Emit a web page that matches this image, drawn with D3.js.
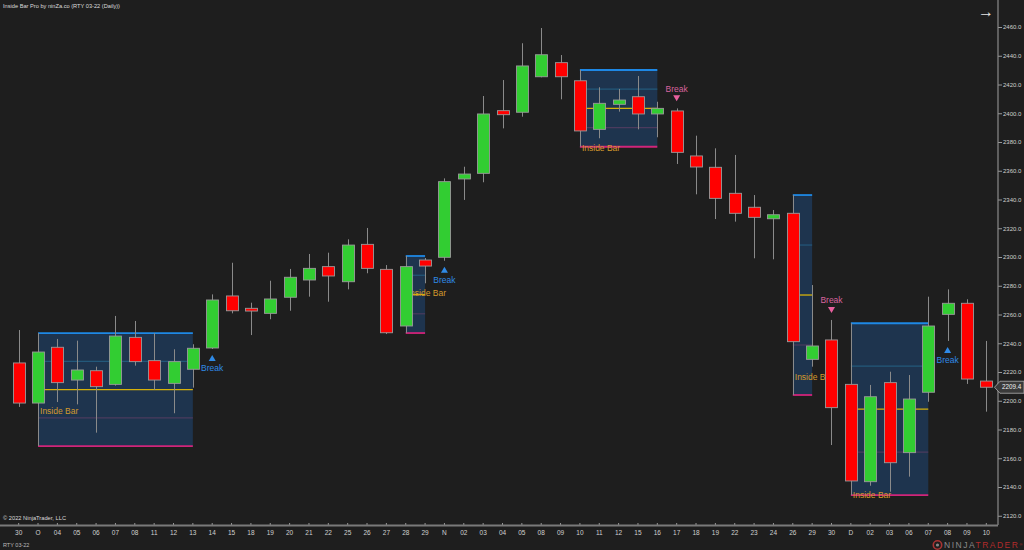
<!DOCTYPE html>
<html><head><meta charset="utf-8">
<script src="https://cdn.jsdelivr.net/npm/d3@7"></script>
<style>
html,body{margin:0;padding:0;background:#1e1e1e;}
svg{display:block;font-family:"Liberation Sans",Arial,sans-serif;}
</style></head>
<body><svg id="c" width="1024" height="550"></svg>
<script>
const dayLabels = ["30","O","04","05","06","07","08","11","12","13","14","15","18","19","20","21","22","25","26","27","28","29","N","02","03","04","05","08","09","10","11","12","15","16","17","18","19","22","23","24","26","29","30","D","02","03","06","07","08","09","10"];
const opens  = [2226.3,2198.4,2237.2,2214.4,2220.9,2211.4,2244.1,2227.9,2212.1,2221.9,2236.7,2272.9,2264.3,2260.8,2272.0,2284.0,2293.3,2282.8,2308.8,2291.4,2252.0,2297.9,2299.8,2354.3,2358.2,2401.8,2400.7,2425.4,2435.2,2422.6,2388.8,2406.2,2411.5,2399.5,2401.6,2370.3,2362.4,2344.3,2334.6,2326.6,2330.4,2228.8,2242.3,2211.4,2143.7,2212.6,2163.9,2205.9,2260.1,2267.8,2213.7];
const highs  = [2249.2,2247.1,2243.0,2241.8,2223.7,2259.0,2255.5,2247.0,2235.8,2239.3,2274.0,2296.0,2268.2,2283.5,2291.7,2302.1,2303.0,2312.3,2320.2,2294.4,2300.7,2299.3,2354.7,2362.8,2412.0,2423.1,2448.7,2459.3,2440.5,2430.1,2418.1,2416.9,2425.9,2408.0,2403.4,2384.4,2375.6,2371.0,2343.1,2332.7,2343.1,2280.5,2256.2,2253.9,2211.0,2220.2,2217.9,2272.4,2277.5,2270.6,2241.6];
const lows   = [2195.7,2168.5,2199.1,2197.5,2177.8,2210.5,2224.4,2207.5,2191.3,2209.1,2236.0,2260.8,2245.7,2256.7,2262.6,2272.4,2268.9,2277.5,2288.7,2246.4,2247.1,2281.7,2297.4,2339.7,2352.0,2389.5,2397.6,2425.0,2409.7,2376.7,2382.6,2401.1,2388.8,2383.3,2364.7,2343.6,2326.4,2324.6,2299.1,2298.4,2204.0,2223.7,2169.2,2134.4,2140.9,2136.7,2147.2,2199.3,2241.6,2211.7,2192.4];
const closes = [2198.4,2233.9,2212.6,2221.4,2209.8,2245.0,2227.2,2214.4,2227.2,2236.5,2270.1,2262.6,2262.4,2270.8,2285.9,2292.1,2286.8,2308.3,2292.1,2247.3,2293.3,2293.7,2352.4,2357.7,2399.5,2399.0,2432.9,2440.7,2425.4,2387.7,2406.9,2409.2,2399.5,2403.4,2372.8,2362.6,2340.8,2330.4,2327.6,2329.4,2241.1,2238.1,2195.2,2144.2,2202.8,2156.9,2201.2,2252.0,2267.8,2215.1,2209.4];
const priceTicks = [2120,2140,2160,2180,2200,2220,2240,2260,2280,2300,2320,2340,2360,2380,2400,2420,2440,2460];
// inside bar patterns: mother bar index, last inside bar index, label price
const boxStart = [1,20,29,40,43];
const boxEnd   = [9,21,33,41,47];
const boxLabelPrice = [2192.9,2275.0,2375.8,2216.5,2134.4];
// breakouts
const breakIdx = [10,22,34,42,48];
const breakDir = ["up","up","down","down","up"];
const lastPrice = 2209.4;

const svg = d3.select("#c");
svg.append("rect").attr("width",1024).attr("height",550).attr("fill","#1e1e1e");

const idx = d3.range(dayLabels.length);
const x = d3.scaleBand().domain(idx).range([9,996]).padding(0);
const xc = i => x(i) + x.bandwidth()/2;
const y = d3.scaleLinear().domain([2120,2460]).range([515.75,27]);
const bw = 12;

// boxes
const levelDefs = [
  {f:0.25,c:"#23587a",w:1.2},
  {f:0.5,c:"#d6b10a",w:1.3},
  {f:0.75,c:"#4b3b5e",w:1.2}
];
const gB = svg.append("g");
boxStart.forEach((s,k)=>{
  const e = boxEnd[k];
  const top = y(highs[s]), bot = y(lows[s]);
  const x0 = xc(s), x1 = xc(e);
  gB.append("rect").attr("x",x0).attr("y",top).attr("width",x1-x0).attr("height",bot-top).attr("fill","#1e344e");
  levelDefs.forEach(L=>{
    const yy = top + (bot-top)*L.f;
    gB.append("line").attr("x1",x0).attr("x2",x1).attr("y1",yy).attr("y2",yy).attr("stroke",L.c).attr("stroke-width",L.w);
  });
  gB.append("line").attr("x1",x0).attr("x2",x1).attr("y1",top).attr("y2",top).attr("stroke","#1e88e5").attr("stroke-width",1.8);
  gB.append("line").attr("x1",x0).attr("x2",x1).attr("y1",bot).attr("y2",bot).attr("stroke","#d0247a").attr("stroke-width",1.8);
  gB.append("text").attr("x",x0+2).attr("y",y(boxLabelPrice[k])).attr("dy","0.35em")
    .attr("fill","#d49a2c").attr("font-size",8.5).text("Inside Bar");
});

// candles
const gC = svg.append("g");
idx.forEach(i=>{
  const cx = Math.round(xc(i))+0.5;
  gC.append("line").attr("x1",cx).attr("x2",cx).attr("y1",y(highs[i])).attr("y2",y(lows[i]))
    .attr("stroke","#8a8a8a").attr("stroke-width",1);
});
idx.forEach(i=>{
  const up = closes[i] >= opens[i];
  const t = y(Math.max(opens[i],closes[i])), b = y(Math.min(opens[i],closes[i]));
  gC.append("rect").attr("x",Math.round(xc(i)-bw/2)+0.5).attr("y",t).attr("width",bw).attr("height",Math.max(b-t,1.5))
    .attr("fill",up?"#32cd32":"#ff0000").attr("stroke","#9a9a9a").attr("stroke-width",0.9);
});

// break signals
const gS = svg.append("g");
breakIdx.forEach((i,k)=>{
  const cx = xc(i);
  if(breakDir[k]==="up"){
    const yt = y(lows[i]) + 6;
    gS.append("path").attr("d",`M${cx},${yt} L${cx+3.5},${yt+6} L${cx-3.5},${yt+6} Z`).attr("fill","#2f8ae6");
    gS.append("text").attr("x",cx).attr("y",yt+13).attr("dy","0.35em").attr("text-anchor","middle")
      .attr("fill","#2f8ae6").attr("font-size",8.5).text("Break");
  } else {
    const yt = y(highs[i]) - 7;
    gS.append("path").attr("d",`M${cx},${yt} L${cx+3.5},${yt-6} L${cx-3.5},${yt-6} Z`).attr("fill","#e8609e");
    gS.append("text").attr("x",cx).attr("y",yt-12.5).attr("dy","0.35em").attr("text-anchor","middle")
      .attr("fill","#d8649e").attr("font-size",8.5).text("Break");
  }
});

// right axis
const yAxis = d3.axisRight(y).tickValues(priceTicks).tickFormat(d3.format(".1f")).tickSize(4).tickPadding(1);
const gy = svg.append("g").attr("transform","translate(998,0)").call(yAxis);
gy.select(".domain").remove();
gy.selectAll("line").attr("stroke","#999");
gy.selectAll("text").attr("fill","#d0d0d0").attr("font-size",6).attr("font-family","Liberation Sans, Arial, sans-serif");
svg.append("line").attr("x1",998).attr("x2",998).attr("y1",0).attr("y2",525).attr("stroke","#8a8a8a").attr("stroke-width",1.2);

// bottom axis
const xAxis = d3.axisBottom(x).tickFormat(i=>dayLabels[i]).tickSize(3).tickPadding(4);
const gx = svg.append("g").attr("transform","translate(0,523)").call(xAxis);
gx.select(".domain").remove();
gx.selectAll("line").attr("stroke","#999");
gx.selectAll("text").attr("fill","#d0d0d0").attr("font-size",6.5).attr("font-family","Liberation Sans, Arial, sans-serif");
svg.append("line").attr("x1",0).attr("x2",998).attr("y1",525.5).attr("y2",525.5).attr("stroke","#7a7a7a").attr("stroke-width",2);

// last price marker
const yp = y(lastPrice);
svg.append("path").attr("d",`M994.5,${yp} L1000,${yp-6} L1024,${yp-6} L1024,${yp+6} L1000,${yp+6} Z`)
  .attr("fill","#3a3a3a").attr("stroke","#b0b0b0").attr("stroke-width",0.8);
svg.append("text").attr("x",1002).attr("y",yp).attr("dy","0.35em").attr("fill","#f0f0f0").attr("font-size",6.3).text(lastPrice.toFixed(1));

// texts
svg.append("text").attr("x",3).attr("y",6).attr("dy","0.35em").attr("fill","#dcdcdc").attr("font-size",6)
  .attr("textLength",117).attr("lengthAdjust","spacingAndGlyphs").text("Inside Bar Pro by ninZa.co (RTY 03-22 (Daily))");
svg.append("text").attr("x",3).attr("y",518).attr("dy","0.35em").attr("fill","#dcdcdc").attr("font-size",6)
  .attr("textLength",63).attr("lengthAdjust","spacingAndGlyphs").text("© 2022 NinjaTrader, LLC");
svg.append("text").attr("x",3).attr("y",545).attr("dy","0.35em").attr("fill","#bbbbbb").attr("font-size",5.5).text("RTY 03-22");
svg.append("text").attr("x",986).attr("y",11).attr("dy","0.35em").attr("text-anchor","middle").attr("fill","#e6e6e6").attr("font-size",16).text("→");

// NinjaTrader logo
const lg = svg.append("g");
lg.append("circle").attr("cx",937.5).attr("cy",545).attr("r",4.2).attr("fill","none").attr("stroke","#a33").attr("stroke-width",1.6);
lg.append("circle").attr("cx",937.5).attr("cy",545).attr("r",1.6).attr("fill","#888");
const lt = lg.append("text").attr("x",944).attr("y",545).attr("dy","0.35em").attr("font-size",8.5).attr("letter-spacing",1.5);
lt.append("tspan").attr("fill","#8a8a8a").text("NINJA");
lt.append("tspan").attr("fill","#b22b2b").text("TRADER");
lt.append("tspan").attr("fill","#b22b2b").attr("font-size",4).attr("dy","-0.6em").text("®");
</script></body></html>
